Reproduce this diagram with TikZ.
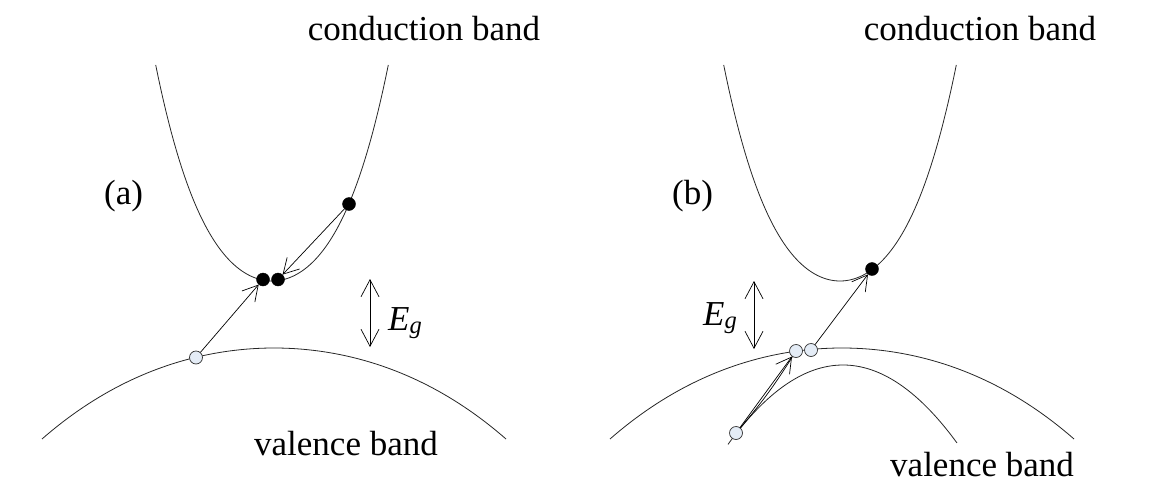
\documentclass[tikz,border=0pt]{standalone}
\usepackage{fontspec}
\setmainfont{Liberation Serif}
\usetikzlibrary{arrows.meta}
\definecolor{holefill}{RGB}{228,236,246}
\begin{document}
\begin{tikzpicture}[x=1pt,y=-1pt,
  band/.style={line width=0.8pt, black!85},
  elec/.style={circle, fill=black, draw=black, inner sep=0pt, minimum size=13pt},
  hole/.style={circle, fill=holefill, draw=black!80, line width=0.7pt, inner sep=0pt, minimum size=13pt},
  trans/.style={line width=0.7pt, -{Straight Barb[length=15pt,width=17pt,line width=0.7pt]}},
  plain/.style={line width=0.7pt},
  gap/.style={line width=0.7pt, {Straight Barb[length=17pt,width=18pt,line width=0.7pt]}-{Straight Barb[length=17pt,width=18pt,line width=0.7pt]}},
  lbl/.style={font=\fontsize{35}{40}\selectfont, inner sep=0pt}
]
\useasboundingbox (0,0) rectangle (1151,479);

% ---------- panel (a) ----------
\draw[band] plot[domain=155.7:388.3, samples=90] (\x, {281 - 107.37*((\x-272)/100)^2 - 38.7*((\x-272)/100)^4});
\draw[band] plot[domain=42:506, samples=90] (\x, {348 + 14.99*((\x-274)/100)^2 + 0.356*((\x-274)/100)^4});
\node[hole] (ha) at (196,357.5) {};
\node[elec] (ea1) at (263,279.5) {};
\node[elec] (ea2) at (278,279.5) {};
\node[elec] (ea3) at (349,204) {};
\draw[trans] (ha) -- (ea1);
\draw[trans] (ea3) -- (ea2);
\coordinate (ga1) at (370,279);
\coordinate (ga2) at (370,347);
\draw[gap] (ga1) -- (ga2);
\node[lbl, anchor=base west] (Ega) at (388,330) {\itshape E\textsubscript{\itshape g}};
\node[lbl, anchor=base west] (la) at (104,204) {(a)};
\node[lbl, anchor=base] (cba) at (424,40) {conduction band};
\node[lbl, anchor=base east] (vba) at (438,455) {valence band};

% ---------- panel (b) ----------
\draw[band] plot[domain=723.7:956.3, samples=90] (\x, {281 - 107.37*((\x-840)/100)^2 - 38.7*((\x-840)/100)^4});
\draw[band] plot[domain=610:1074, samples=90] (\x, {348 + 14.99*((\x-842)/100)^2 + 0.356*((\x-842)/100)^4});
\draw[band] plot[domain=728:957, samples=70] (\x, {365 + 60*((\x-843)/100)^2});
\node[hole] (hb0) at (736,433) {};
\node[hole] (hb1) at (796,351) {};
\node[hole] (hb2) at (811,350) {};
\node[elec] (eb) at (872,269) {};
\draw[trans] (hb0) -- (hb1);
\draw[plain] (hb0) to[bend right=4] (hb1);
\draw[trans] (hb2) -- (eb);
\coordinate (gb1) at (754,281);
\coordinate (gb2) at (754,349);
\draw[gap] (gb1) -- (gb2);
\node[lbl, anchor=base west] (Egb) at (703,325) {\itshape E\textsubscript{\itshape g}};
\node[lbl, anchor=base west] (lb) at (672,204) {(b)};
\node[lbl, anchor=base] (cbb) at (980,40) {conduction band};
\node[lbl, anchor=base west] (vbb) at (890,476) {valence band};
\end{tikzpicture}
\end{document}
